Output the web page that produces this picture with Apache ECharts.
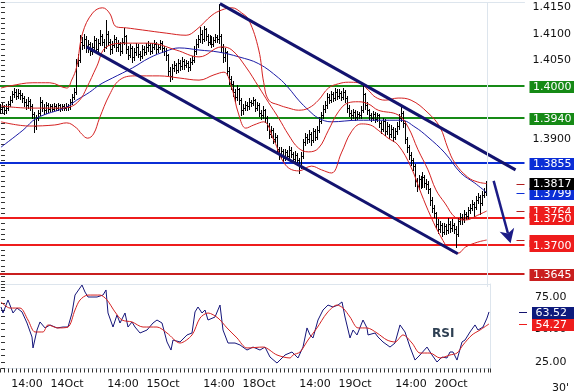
<!DOCTYPE html>
<html><head><meta charset="utf-8">
<script src="https://cdn.jsdelivr.net/npm/echarts@6/dist/echarts.min.js"></script>
<style>html,body{margin:0;padding:0;background:#fff}#c{width:574px;height:391px}</style>
</head><body><div id="c"></div>
<script>
// ---- 30-minute bars (EUR/USD) ----
const opens=[
1.3955,1.3958,1.3962,1.3955,1.3960,1.3966,1.3975,1.3985,1.3990,1.3982,
1.3988,1.3984,1.3978,1.3970,1.3965,1.3972,1.3962,1.3948,1.3925,1.3940,
1.3950,1.3970,1.3960,1.3955,1.3965,1.3958,1.3962,1.3958,1.3963,1.3960,
1.3964,1.3959,1.3962,1.3960,1.3963,1.3961,1.3970,1.3980,1.3990,1.4045,
1.4050,1.4085,1.4078,1.4090,1.4072,1.4080,1.4068,1.4075,1.4088,1.4070,
1.4082,1.4095,1.4085,1.4075,1.4100,1.4085,1.4070,1.4078,1.4090,1.4074,
1.4080,1.4068,1.4085,1.4095,1.4070,1.4060,1.4072,1.4055,1.4065,1.4075,
1.4062,1.4058,1.4070,1.4066,1.4074,1.4078,1.4068,1.4075,1.4080,1.4070,
1.4074,1.4082,1.4072,1.4068,1.4060,1.4030,1.4020,1.4035,1.4040,1.4032,
1.4045,1.4038,1.4048,1.4040,1.4044,1.4036,1.4046,1.4050,1.4068,1.4080,
1.4090,1.4100,1.4090,1.4108,1.4095,1.4085,1.4092,1.4080,1.4088,1.4094,
1.4090,1.4095,1.4075,1.4055,1.4065,1.4030,1.4015,1.4005,1.3990,1.3980,
1.3995,1.3975,1.3955,1.3960,1.3965,1.3962,1.3970,1.3968,1.3974,1.3960,
1.3965,1.3950,1.3945,1.3955,1.3940,1.3925,1.3910,1.3918,1.3900,1.3905,
1.3882,1.3870,1.3878,1.3865,1.3875,1.3868,1.3880,1.3872,1.3862,1.3870,
1.3860,1.3850,1.3868,1.3895,1.3905,1.3900,1.3910,1.3898,1.3915,1.3905,
1.3918,1.3935,1.3945,1.3958,1.3965,1.3980,1.3975,1.3985,1.3978,1.3990,
1.3982,1.3988,1.3980,1.3990,1.3978,1.3960,1.3950,1.3945,1.3952,1.3942,
1.3948,1.3945,1.3955,1.3985,1.3965,1.3955,1.3945,1.3940,1.3948,1.3938,
1.3945,1.3930,1.3920,1.3935,1.3915,1.3925,1.3910,1.3920,1.3905,1.3915,
1.3925,1.3940,1.3950,1.3930,1.3900,1.3885,1.3870,1.3860,1.3850,1.3820,
1.3812,1.3825,1.3815,1.3828,1.3818,1.3815,1.3805,1.3785,1.3770,1.3760,
1.3740,1.3730,1.3738,1.3725,1.3735,1.3728,1.3740,1.3732,1.3738,1.3730,
1.3720,1.3745,1.3752,1.3748,1.3758,1.3755,1.3765,1.3770,1.3778,1.3772,
1.3785,1.3790,1.3780,1.3795,1.3800];
const highs=[
1.3966,1.3968,1.3965,1.3966,1.3972,1.3982,1.3992,1.3998,1.3995,1.3996,
1.3993,1.3988,1.3982,1.3976,1.3980,1.3976,1.3966,1.3952,1.3946,1.3955,
1.3980,1.3974,1.3966,1.3970,1.3968,1.3967,1.3966,1.3968,1.3966,1.3968,
1.3967,1.3966,1.3966,1.3968,1.3967,1.3976,1.3986,1.3998,1.4052,1.4062,
1.4098,1.4094,1.4100,1.4095,1.4088,1.4085,1.4083,1.4096,1.4092,1.4090,
1.4106,1.4100,1.4090,1.4125,1.4105,1.4090,1.4086,1.4098,1.4094,1.4088,
1.4085,1.4092,1.4111,1.4098,1.4076,1.4080,1.4076,1.4072,1.4082,1.4080,
1.4068,1.4078,1.4076,1.4082,1.4086,1.4082,1.4082,1.4088,1.4084,1.4080,
1.4088,1.4086,1.4076,1.4072,1.4062,1.4036,1.4042,1.4048,1.4045,1.4052,
1.4050,1.4055,1.4052,1.4050,1.4048,1.4054,1.4058,1.4076,1.4090,1.4098,
1.4112,1.4106,1.4115,1.4110,1.4100,1.4098,1.4096,1.4094,1.4100,1.4098,
1.4157,1.4100,1.4080,1.4072,1.4068,1.4036,1.4020,1.4010,1.3996,1.4002,
1.3998,1.3978,1.3966,1.3972,1.3970,1.3978,1.3975,1.3980,1.3976,1.3970,
1.3968,1.3955,1.3962,1.3958,1.3944,1.3930,1.3925,1.3922,1.3912,1.3908,
1.3886,1.3886,1.3882,1.3882,1.3880,1.3888,1.3885,1.3876,1.3877,1.3874,
1.3865,1.3875,1.3900,1.3912,1.3910,1.3918,1.3914,1.3922,1.3920,1.3925,
1.3942,1.3952,1.3965,1.3972,1.3988,1.3986,1.3992,1.3990,1.3997,1.3995,
1.3996,1.3992,1.3997,1.3994,1.3982,1.3964,1.3956,1.3958,1.3956,1.3954,
1.3952,1.3962,1.4003,1.3988,1.3970,1.3958,1.3950,1.3954,1.3952,1.3950,
1.3948,1.3935,1.3940,1.3938,1.3932,1.3928,1.3926,1.3924,1.3922,1.3932,
1.3948,1.3961,1.3954,1.3934,1.3905,1.3890,1.3875,1.3865,1.3853,1.3826,
1.3832,1.3830,1.3838,1.3832,1.3825,1.3820,1.3808,1.3790,1.3775,1.3763,
1.3748,1.3745,1.3742,1.3742,1.3740,1.3750,1.3746,1.3748,1.3742,1.3735,
1.3750,1.3760,1.3758,1.3765,1.3763,1.3772,1.3778,1.3785,1.3782,1.3792,
1.3798,1.3795,1.3802,1.3808,1.3820];
const lows=[
1.3950,1.3952,1.3948,1.3950,1.3956,1.3962,1.3970,1.3980,1.3976,1.3978,
1.3977,1.3970,1.3962,1.3958,1.3960,1.3955,1.3940,1.3914,1.3920,1.3936,
1.3946,1.3954,1.3948,1.3950,1.3952,1.3954,1.3953,1.3955,1.3955,1.3956,
1.3954,1.3955,1.3955,1.3956,1.3956,1.3958,1.3966,1.3976,1.3985,1.4038,
1.4046,1.4070,1.4072,1.4065,1.4066,1.4060,1.4062,1.4070,1.4064,1.4066,
1.4078,1.4078,1.4068,1.4072,1.4078,1.4062,1.4064,1.4074,1.4068,1.4068,
1.4060,1.4064,1.4080,1.4064,1.4052,1.4056,1.4046,1.4050,1.4060,1.4056,
1.4050,1.4054,1.4060,1.4062,1.4068,1.4062,1.4064,1.4070,1.4064,1.4066,
1.4070,1.4066,1.4060,1.4050,1.4022,1.4010,1.4015,1.4030,1.4026,1.4028,
1.4032,1.4034,1.4034,1.4036,1.4030,1.4032,1.4042,1.4046,1.4062,1.4075,
1.4085,1.4082,1.4086,1.4088,1.4078,1.4080,1.4074,1.4076,1.4084,1.4084,
1.4082,1.4066,1.4046,1.4048,1.4022,1.4005,1.3996,1.3982,1.3970,1.3975,
1.3966,1.3946,1.3948,1.3955,1.3955,1.3958,1.3962,1.3964,1.3954,1.3955,
1.3944,1.3938,1.3940,1.3932,1.3918,1.3902,1.3905,1.3892,1.3895,1.3876,
1.3862,1.3865,1.3858,1.3860,1.3862,1.3864,1.3866,1.3856,1.3857,1.3852,
1.3836,1.3846,1.3865,1.3890,1.3893,1.3895,1.3890,1.3894,1.3898,1.3900,
1.3914,1.3930,1.3940,1.3952,1.3960,1.3968,1.3970,1.3972,1.3974,1.3976,
1.3978,1.3974,1.3976,1.3970,1.3952,1.3944,1.3938,1.3940,1.3936,1.3938,
1.3940,1.3940,1.3952,1.3958,1.3948,1.3938,1.3934,1.3936,1.3932,1.3934,
1.3924,1.3912,1.3915,1.3908,1.3910,1.3902,1.3905,1.3897,1.3900,1.3910,
1.3920,1.3935,1.3924,1.3892,1.3876,1.3862,1.3852,1.3842,1.3812,1.3802,
1.3806,1.3808,1.3810,1.3810,1.3806,1.3798,1.3776,1.3762,1.3752,1.3732,
1.3722,1.3724,1.3716,1.3720,1.3720,1.3722,1.3725,1.3726,1.3722,1.3696,
1.3716,1.3740,1.3740,1.3744,1.3748,1.3750,1.3760,1.3765,1.3755,1.3768,
1.3780,1.3758,1.3776,1.3790,1.3795];
const closes=[
1.3958,1.3962,1.3955,1.3960,1.3966,1.3975,1.3985,1.3990,1.3982,1.3988,
1.3984,1.3978,1.3970,1.3965,1.3972,1.3962,1.3948,1.3925,1.3940,1.3950,
1.3970,1.3960,1.3955,1.3965,1.3958,1.3962,1.3958,1.3963,1.3960,1.3964,
1.3959,1.3962,1.3960,1.3963,1.3961,1.3970,1.3980,1.3990,1.4045,1.4050,
1.4085,1.4078,1.4090,1.4072,1.4080,1.4068,1.4075,1.4088,1.4070,1.4082,
1.4095,1.4085,1.4075,1.4100,1.4085,1.4070,1.4078,1.4090,1.4074,1.4080,
1.4068,1.4085,1.4095,1.4070,1.4060,1.4072,1.4055,1.4065,1.4075,1.4062,
1.4058,1.4070,1.4066,1.4074,1.4078,1.4068,1.4075,1.4080,1.4070,1.4074,
1.4082,1.4072,1.4068,1.4060,1.4030,1.4020,1.4035,1.4040,1.4032,1.4045,
1.4038,1.4048,1.4040,1.4044,1.4036,1.4046,1.4050,1.4068,1.4080,1.4090,
1.4100,1.4090,1.4108,1.4095,1.4085,1.4092,1.4080,1.4088,1.4094,1.4090,
1.4095,1.4075,1.4055,1.4065,1.4030,1.4015,1.4005,1.3990,1.3980,1.3995,
1.3975,1.3955,1.3960,1.3965,1.3962,1.3970,1.3968,1.3974,1.3960,1.3965,
1.3950,1.3945,1.3955,1.3940,1.3925,1.3910,1.3918,1.3900,1.3905,1.3882,
1.3870,1.3878,1.3865,1.3875,1.3868,1.3880,1.3872,1.3862,1.3870,1.3860,
1.3850,1.3868,1.3895,1.3905,1.3900,1.3910,1.3898,1.3915,1.3905,1.3918,
1.3935,1.3945,1.3958,1.3965,1.3980,1.3975,1.3985,1.3978,1.3990,1.3982,
1.3988,1.3980,1.3990,1.3978,1.3960,1.3950,1.3945,1.3952,1.3942,1.3948,
1.3945,1.3955,1.3985,1.3965,1.3955,1.3945,1.3940,1.3948,1.3938,1.3945,
1.3930,1.3920,1.3935,1.3915,1.3925,1.3910,1.3920,1.3905,1.3915,1.3925,
1.3940,1.3950,1.3930,1.3900,1.3885,1.3870,1.3860,1.3850,1.3820,1.3812,
1.3825,1.3815,1.3828,1.3818,1.3815,1.3805,1.3785,1.3770,1.3760,1.3740,
1.3730,1.3738,1.3725,1.3735,1.3728,1.3740,1.3732,1.3738,1.3730,1.3720,
1.3745,1.3752,1.3748,1.3758,1.3755,1.3765,1.3770,1.3778,1.3772,1.3785,
1.3790,1.3780,1.3795,1.3800,1.3817];

// ---- indicators: [bar index, value] ----
const bbUpper=[[0,1.3997],[4.5,1.4001],[16,1.4007],[24.5,1.4007],[33,1.3997],[35.5,1.4012],[38,1.4037],[41,1.4101],[46,1.4139],[51,1.4149],[54.5,1.4139],[58,1.4113],[63,1.4111],[71,1.4107],[83,1.4101],[93,1.4097],[98,1.4107],[106,1.4135],[111,1.4145],[116,1.4149],[121,1.4139],[124.5,1.4126],[129.5,1.4069],[132,1.4007],[134.5,1.3974],[139.5,1.3965],[144.5,1.3959],[149.5,1.3955],[154.5,1.3959],[159.5,1.3974],[164.5,1.3997],[169.5,1.4005],[174.5,1.4008],[179.5,1.4007],[184.5,1.3993],[188,1.3980],[193,1.3974],[199.5,1.3978],[206,1.3974],[214.5,1.3950],[220.5,1.3923],[224.5,1.3883],[228,1.3855],[234.5,1.3828],[239.5,1.3819],[244,1.3816]];
const ma20=[[0,1.3963],[14.5,1.3959],[29.5,1.3959],[34.5,1.3961],[39.5,1.3974],[43,1.3997],[48,1.4037],[53,1.4075],[63,1.4082],[74.5,1.4082],[88,1.4069],[99.5,1.4056],[111,1.4075],[116,1.4069],[123,1.4037],[129.5,1.3999],[134.5,1.3969],[139.5,1.3940],[144.5,1.3908],[149.5,1.3883],[154.5,1.3876],[159.5,1.3883],[164.5,1.3917],[169.5,1.3952],[174.5,1.3969],[179.5,1.3971],[184.5,1.3967],[189.5,1.3955],[199.5,1.3946],[204.5,1.3923],[209.5,1.3880],[214.5,1.3842],[218.5,1.3804],[223,1.3779],[228.5,1.3751],[233.5,1.3747],[239.5,1.3756],[244,1.3764]];
const bbLower=[[0,1.3933],[14.5,1.3925],[27,1.3927],[33,1.3931],[38,1.3921],[40.5,1.3910],[43.5,1.3902],[46.5,1.3910],[49.5,1.3940],[54.5,1.3984],[59.5,1.4012],[67,1.4020],[79.5,1.4020],[89.5,1.4016],[99.5,1.4012],[107,1.4022],[112,1.4027],[115.5,1.4003],[119.5,1.3946],[123,1.3921],[127,1.3927],[132,1.3933],[137,1.3899],[143,1.3851],[149.5,1.3840],[156,1.3849],[161,1.3842],[166,1.3836],[171,1.3874],[176,1.3914],[181,1.3929],[185.5,1.3927],[189.5,1.3917],[194.5,1.3902],[199.5,1.3889],[206,1.3847],[211,1.3798],[216,1.3753],[221,1.3715],[225.5,1.3690],[229.5,1.3684],[233.5,1.3696],[239.5,1.3705],[244,1.3709]];
const ma50=[[0,1.3885],[11,1.3917],[18,1.3940],[33,1.3961],[38,1.3974],[44.5,1.3989],[49.5,1.4003],[56,1.4016],[66,1.4035],[74.5,1.4054],[83,1.4067],[89.5,1.4073],[99.5,1.4069],[109.5,1.4065],[119.5,1.4056],[129.5,1.4043],[139.5,1.4016],[144.5,1.3997],[149.5,1.3974],[154.5,1.3955],[159.5,1.3940],[166,1.3933],[179.5,1.3936],[189.5,1.3936],[201,1.3936],[208,1.3923],[214.5,1.3904],[223,1.3874],[231,1.3836],[238,1.3817],[244,1.3799]];
const rsi=[[0,67.3],[1,62.7],[3.5,72.7],[6,62.7],[8,66.5],[10.5,63.5],[13,55.0],[15.5,44.2],[16,35.8],[18,49.6],[19.5,55.8],[22,51.2],[24.5,53.5],[28,51.2],[31,51.9],[33.5,51.9],[35.5,62.7],[37,76.5],[40.5,84.2],[42,78.8],[43.5,75],[48,75],[51,76.5],[52.5,80.4],[53.5,62.7],[56,51.9],[58,61.2],[59.5,55],[62,62.7],[63.5,51.9],[65.5,55.8],[67,51.9],[69.5,47.3],[73,49.6],[76,55],[78,57.3],[80.5,55],[83,40.4],[85,34.2],[86,41.9],[89.5,40.4],[93,45.8],[95.5,47.3],[97,63.5],[98.5,67.3],[100.5,62.7],[102,65],[103.5,57.3],[107,59.6],[109.5,68.8],[111,49.6],[113.5,39.6],[117,39.6],[119.5,38.1],[123,34.2],[126,36.5],[129.5,34.2],[132,36.5],[134.5,28.8],[138,24.2],[142,30.4],[145.5,32.7],[148.5,28.1],[151,36.5],[153,51.2],[154.5,45.8],[156,43.5],[158.5,57.3],[161,65],[163.5,68.8],[166,67.3],[168.5,68.8],[170.5,71.2],[172,59.6],[174.5,43.5],[176,49.6],[178,45.8],[181,57.3],[183,51.2],[183.5,45.8],[187,47.3],[188.5,44.2],[191,40.4],[194.5,36.5],[197,39.6],[199.5,53.5],[202,48.1],[204.5,36.5],[207,26.5],[209.5,30.4],[213,36.5],[215.5,30.4],[218,25],[220.5,28.8],[223,28.1],[224.5,32.7],[226,32.7],[228,26.5],[230.5,40.4],[232,41.9],[234.5,48.1],[237,53.5],[238.5,49.6],[241,51.9],[243,58.8],[244,63.52]];
const rsiSignal=[[0,71.2],[4.5,66.5],[9.5,66.5],[13.5,57.3],[17,48.1],[21,48.1],[23.5,53.5],[28.5,51.2],[33.5,51.9],[37,65],[39.5,72.7],[43.5,76.5],[49.5,76.5],[53,72.7],[57,63.5],[60.5,57.3],[65.5,55.8],[71,51.9],[78,51.9],[83,47.3],[89.5,39.6],[95.5,45.8],[99.5,58.8],[103.5,62.7],[108.5,58.8],[113,51.2],[118,43.5],[123,35.8],[131,36.5],[138,30.4],[144.5,28.1],[146,30.4],[149.5,32.7],[153.5,41.9],[158,51.2],[163,62.7],[168,68.8],[171,66.5],[174.5,59.6],[178.5,51.2],[183,51.2],[188,47.3],[193,41.9],[197,40.4],[201,45.8],[205.5,39.6],[209.5,31.9],[214.5,31.9],[219.5,28.1],[224.5,30.4],[228,31.9],[231,38.1],[235.5,45.8],[239.5,49.6],[244,54.27]];

// ---- drawings & levels ----
const levels=[1.4000,1.3940,1.3855,1.3750,1.3700,1.3645];
const levelColors=['#168a16','#168a16','#0b2ed6','#ee1c1c','#ee1c1c','#c91f1f'];
const channelUpper=[[110,1.4157],[258.5,1.3842]];
const channelLower=[[43,1.4075],[229.5,1.3683]];
const arrowPts=[[247.5,1.3821],[256,1.3703]];
const priceAxisLabels=[1.4150,1.4100,1.4050,1.3900];
const rsiAxisLabels=[25,50,75];
const xLabelIdx=[13,33,61,81,109,129,157,177,205,225];
const xLabels=['14:00','14Oct','14:00','15Oct','14:00','18Oct','14:00','19Oct','14:00','20Oct'];

const FONT='"DejaVu Sans", Verdana, sans-serif';
const N=closes.length, LAST=N-1, X_MIN=-0.5, X_MAX=263;
const cats=closes.map((_,i)=>String(i));
const bars=closes.map((c,i)=>[i,opens[i],highs[i],lows[i],c]);
const last=a=>a[a.length-1][1];
const RED='#ee1c1c', DRED='#b01e1e', BLUE='#0b2ed6', NAVY='#13136f', GRID='#dde5ed';

const mainTags=[
  {v:last(bbLower),tick:DRED,box:RED,noText:true},
  {v:last(ma20),tick:DRED,box:RED},
  {v:last(ma50),tick:BLUE,box:BLUE},
  {v:last(bbUpper),tick:DRED,box:null},
  {v:closes[LAST],tick:null,box:'#000'}
].concat(levels.map((v,k)=>({v:v,tick:null,box:levelColors[k]})));
const rsiTags=[
  {v:last(rsi),tick:NAVY,box:'#0d1a7c'},
  {v:last(rsiSignal),tick:RED,box:RED}
];

function tagRender(tags, digits, dx){
  return function(params, api){
    const t=tags[params.dataIndex];
    const p=api.coord([api.value(0), t.v]);
    const xr=p[0]+dx, y=Math.round(p[1]);
    const ch=[];
    if(t.tick) ch.push({type:'line',shape:{x1:xr-8,y1:y+0.5,x2:xr,y2:y+0.5},style:{stroke:t.tick,lineWidth:1}});
    if(t.box){
      ch.push({type:'rect',shape:{x:xr+5,y:y-5,width:50,height:12},style:{fill:t.box}});
      if(!t.noText) ch.push({type:'text',style:{text:t.v.toFixed(digits),x:xr+8.5,y:y+1.5,fill:'#fff',font:'11px '+FONT,align:'left',verticalAlign:'middle',textAlign:'left',textVerticalAlign:'middle'}});
    }
    return {type:'group',children:ch};
  };
}

const chart=echarts.init(document.getElementById('c'),null,{renderer:'canvas'});
chart.setOption({
  animation:false,
  textStyle:{fontFamily:FONT},
  grid:[
    {left:0,top:2,width:527,height:285},
    {left:0,top:284,width:490,height:84.5}
  ],
  title:[
    {text:'RSI',left:427,top:323,textStyle:{fontFamily:FONT,fontSize:12,fontWeight:'bold',color:'#2e3f52'}},
    {text:"30'",left:547,top:378,textStyle:{fontFamily:FONT,fontSize:11,fontWeight:'normal',color:'#111'}}
  ],
  xAxis:[
    {gridIndex:0,type:'value',min:X_MIN,max:X_MAX,position:'top',axisLine:{show:true,lineStyle:{color:GRID}},axisTick:{show:false},axisLabel:{show:false},splitLine:{show:false}},
    {gridIndex:1,type:'category',data:cats,boundaryGap:true,position:'bottom',
      axisLine:{show:true,lineStyle:{color:GRID}},
      axisTick:{show:true,interval:1,length:4,lineStyle:{color:'#333'}},
      axisLabel:{interval:(i)=>xLabelIdx.indexOf(i)>=0,formatter:(v,i)=>xLabels[xLabelIdx.indexOf(i)]||'',color:'#111',fontSize:11,fontFamily:FONT,margin:10},
      splitLine:{show:false}},
    {gridIndex:1,type:'value',min:X_MIN,max:LAST+0.5,position:'top',axisLine:{show:true,lineStyle:{color:GRID}},axisTick:{show:false},axisLabel:{show:false},splitLine:{show:false}}
  ],
  yAxis:[
    {gridIndex:0,type:'value',position:'right',min:1.3620,max:1.4160,interval:0.001,
      axisLine:{show:false},axisTick:{show:true,length:4,lineStyle:{color:'#333'}},
      axisLabel:{formatter:(v)=>priceAxisLabels.some(l=>Math.abs(l-v)<5e-5)?v.toFixed(4):'',color:'#111',fontSize:11,fontFamily:FONT,margin:8},
      splitLine:{show:false}},
    {gridIndex:1,type:'value',position:'right',offset:37,min:20,max:85,interval:5,
      axisLine:{show:false},axisTick:{show:true,length:4,lineStyle:{color:'#333'}},
      axisLabel:{formatter:(v)=>rsiAxisLabels.some(l=>Math.abs(l-v)<1e-6)?v.toFixed(2):'',color:'#111',fontSize:11,fontFamily:FONT,margin:8},
      splitLine:{show:false}},
    {gridIndex:1,type:'value',position:'right',offset:0,min:20,max:85,axisLine:{show:true,lineStyle:{color:GRID}},axisTick:{show:false},axisLabel:{show:false},splitLine:{show:false}}
  ],
  series:[
    {type:'custom',name:'levels',xAxisIndex:0,yAxisIndex:0,z:1,silent:true,
      data:levels.map((v,k)=>[k,v]),
      renderItem:function(params,api){
        const v=api.value(1);
        const a=api.coord([X_MIN,v]), b=api.coord([X_MAX,v]);
        const y=Math.round(a[1]);
        return {type:'line',shape:{x1:a[0],y1:y,x2:b[0],y2:y},style:{stroke:levelColors[params.dataIndex],lineWidth:2}};
      }},
    {type:'custom',name:'bars',xAxisIndex:0,yAxisIndex:0,z:2,silent:true,data:bars,
      renderItem:function(params,api){
        const i=api.value(0);
        const ph=api.coord([i,api.value(2)]), pl=api.coord([i,api.value(3)]);
        const yo=Math.round(api.coord([i,api.value(1)])[1]), yc=Math.round(api.coord([i,api.value(4)])[1]);
        const x=Math.floor(ph[0]);
        const yh=Math.round(ph[1]), yl=Math.round(pl[1]);
        return {type:'group',children:[
          {type:'rect',shape:{x:x,y:yh,width:1,height:Math.max(1,yl-yh+1)},style:{fill:'#000'}},
          {type:'rect',shape:{x:x-1,y:yo,width:1,height:1},style:{fill:'#000'}},
          {type:'rect',shape:{x:x+1,y:yc,width:1,height:1},style:{fill:'#000'}}
        ]};
      },
      markLine:{silent:true,symbol:'none',label:{show:false},lineStyle:{color:GRID,type:'solid',width:1},data:[{xAxis:LAST+0.5}]}
    },
    {type:'line',name:'MA50',xAxisIndex:0,yAxisIndex:0,z:3,data:ma50,showSymbol:false,smooth:0.4,lineStyle:{color:'#1c1ca6',width:1}},
    {type:'line',name:'BB upper',xAxisIndex:0,yAxisIndex:0,z:3,data:bbUpper,showSymbol:false,smooth:0.4,lineStyle:{color:'#d42222',width:1}},
    {type:'line',name:'MA20',xAxisIndex:0,yAxisIndex:0,z:3,data:ma20,showSymbol:false,smooth:0.4,lineStyle:{color:'#d42222',width:1}},
    {type:'line',name:'BB lower',xAxisIndex:0,yAxisIndex:0,z:3,data:bbLower,showSymbol:false,smooth:0.4,lineStyle:{color:'#d42222',width:1}},
    {type:'line',name:'channel up',xAxisIndex:0,yAxisIndex:0,z:4,data:channelUpper,showSymbol:false,lineStyle:{color:NAVY,width:3}},
    {type:'line',name:'channel low',xAxisIndex:0,yAxisIndex:0,z:4,data:channelLower,showSymbol:false,lineStyle:{color:NAVY,width:3}},
    {type:'custom',name:'arrow',xAxisIndex:0,yAxisIndex:0,z:5,clip:false,silent:true,
      data:[[arrowPts[0][0],arrowPts[0][1],arrowPts[1][0],arrowPts[1][1]]],
      renderItem:function(params,api){
        const a=api.coord([api.value(0),api.value(1)]), b=api.coord([api.value(2),api.value(3)]);
        const dx=b[0]-a[0], dy=b[1]-a[1], L=Math.hypot(dx,dy), ux=dx/L, uy=dy/L, nx=-uy, ny=ux;
        const hl=14, hw=7.5, notch=4;
        const bx=b[0]-ux*hl, by=b[1]-uy*hl;
        const mx=b[0]-ux*(hl-notch), my=b[1]-uy*(hl-notch);
        return {type:'group',children:[
          {type:'line',shape:{x1:a[0],y1:a[1],x2:mx,y2:my},style:{stroke:'#1b1b86',lineWidth:2.5}},
          {type:'polygon',shape:{points:[[b[0],b[1]],[bx+nx*hw,by+ny*hw],[mx,my],[bx-nx*hw,by-ny*hw]]},style:{fill:'#1b1b86'}}
        ]};
      }},
    {type:'line',name:'RSI',xAxisIndex:2,yAxisIndex:1,z:3,data:rsi,showSymbol:false,lineStyle:{color:'#15157a',width:1}},
    {type:'line',name:'RSI signal',xAxisIndex:2,yAxisIndex:1,z:3,data:rsiSignal,showSymbol:false,smooth:0.3,lineStyle:{color:'#d42222',width:1}},
    {type:'custom',name:'tags',xAxisIndex:0,yAxisIndex:0,z:10,clip:false,silent:true,
      data:mainTags.map(()=>[X_MAX]),renderItem:tagRender(mainTags,4,0)},
    {type:'custom',name:'rsiTags',xAxisIndex:2,yAxisIndex:1,z:10,clip:false,silent:true,
      data:rsiTags.map(()=>[LAST+0.5]),renderItem:tagRender(rsiTags,2,37)}
  ]
});
</script>
</body></html>
